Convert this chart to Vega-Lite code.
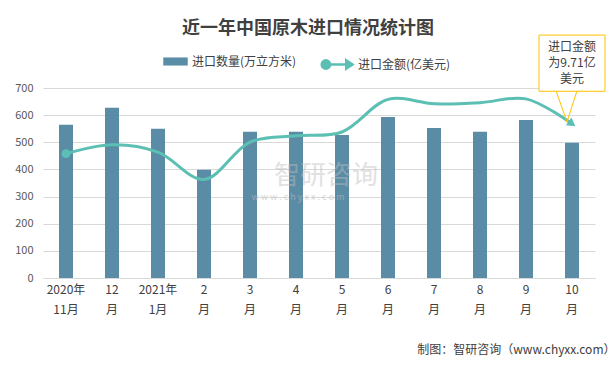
{
  "$schema": "https://vega.github.io/schema/vega-lite/v6.json",
  "width": 552,
  "height": 190,
  "autosize": {"type": "none"},
  "padding": {"left": 43, "top": 88, "right": 20, "bottom": 91},
  "background": "white",
  "config": {
    "font": "Noto Sans CJK SC",
    "view": {"stroke": null},
    "axis": {"labelFont": "Noto Sans CJK SC", "titleFont": "Noto Sans CJK SC"},
    "axisY": {
      "tickCount": 7,
      "title": null,
      "domain": false,
      "ticks": false,
      "labelFontSize": 11,
      "labelColor": "#595959",
      "labelPadding": 10,
      "gridColor": "#D9D9D9"
    }
  },
  "title": {
    "text": "近一年中国原木进口情况统计图",
    "fontSize": 18,
    "fontWeight": "bold",
    "color": "#404040",
    "anchor": "middle",
    "offset": -3,
    "dx": -11
  },
  "data": {
    "values": [
      {"月份": "2020年|11月", "数量": 565, "金额": 458},
      {"月份": "12|月", "数量": 627, "金额": 491},
      {"月份": "2021年|1月", "数量": 550, "金额": 464},
      {"月份": "2|月", "数量": 399, "金额": 363},
      {"月份": "3|月", "数量": 539, "金额": 501},
      {"月份": "4|月", "数量": 539, "金额": 524},
      {"月份": "5|月", "数量": 527, "金额": 538},
      {"月份": "6|月", "数量": 593, "金额": 658},
      {"月份": "7|月", "数量": 553, "金额": 642},
      {"月份": "8|月", "数量": 539, "金额": 646},
      {"月份": "9|月", "数量": 582, "金额": 660},
      {"月份": "10|月", "数量": 498, "金额": 568}
    ]
  },
  "encoding": {
    "x": {
      "field": "月份",
      "type": "nominal",
      "sort": null,
      "scale": {"paddingInner": 0.7, "paddingOuter": 0.35},
      "axis": {
        "labelExpr": "split(datum.label, '|')",
        "labelAngle": 0,
        "labelFontSize": 12,
        "labelColor": "#404040",
        "labelLineHeight": 20,
        "labelPadding": 6,
        "ticks": false,
        "domainColor": "#D9D9D9",
        "title": "制图：智研咨询（www.chyxx.com）",
        "titleFontSize": 12,
        "titleFontWeight": "normal",
        "titleColor": "#404040",
        "titleX": 572,
        "titleY": 66,
        "titleAlign": "right"
      }
    }
  },
  "layer": [
    {
      "mark": {"type": "bar", "width": 14},
      "encoding": {
        "y": {
          "field": "数量",
          "type": "quantitative",
          "scale": {"domain": [0, 700], "nice": false}
        },
        "fill": {
          "datum": "进口数量(万立方米)",
          "type": "nominal",
          "scale": {"range": ["#5B8CA6"]},
          "legend": {
            "orient": "none",
            "legendX": 120,
            "legendY": -39,
            "title": null,
            "symbolType": "M-1,-0.33H1V0.33H-1Z",
            "symbolSize": 600,
            "symbolStrokeWidth": 0,
            "labelFontSize": 12,
            "labelColor": "#404040"
          }
        }
      }
    },
    {
      "data": {"values": [{"k": 1}]},
      "mark": {"type": "text", "fontSize": 26, "color": "#BDBDBD", "opacity": 0.45, "dx": 30},
      "encoding": {
        "x": {"datum": "4|月"},
        "y": {"datum": 375},
        "text": {"value": "智研咨询"}
      }
    },
    {
      "data": {"values": [{"k": 1}]},
      "mark": {"type": "text", "fontSize": 9, "color": "#BDBDBD", "opacity": 0.6, "dx": 2},
      "encoding": {
        "x": {"datum": "4|月"},
        "y": {"datum": 300},
        "text": {"value": "w  w  w  .  c  h  y  x  x  .  c  o  m"}
      }
    },
    {
      "mark": {"type": "line", "interpolate": "catmull-rom", "strokeWidth": 3, "color": "#5CBFB4"},
      "encoding": {
        "y": {"field": "金额", "type": "quantitative"},
        "stroke": {
          "datum": "进口金额(亿美元)",
          "type": "nominal",
          "scale": {"range": ["#5CBFB4"]},
          "legend": {
            "orient": "none",
            "legendX": 280,
            "legendY": -39,
            "title": null,
            "symbolType": "M-1,0L0.7,0M0.55,-0.3L1,0L0.55,0.3ZM-0.6,0A0.3,0.3 0 1 1 -1.2,0A0.3,0.3 0 1 1 -0.6,0Z",
            "symbolSize": 784,
            "symbolStrokeWidth": 2.5,
            "symbolFillColor": "#5CBFB4",
            "labelFontSize": 12,
            "labelColor": "#404040"
          }
        }
      }
    },
    {
      "transform": [{"filter": "datum['月份'] == '2020年|11月'"}],
      "mark": {"type": "point", "filled": true, "size": 80, "color": "#5CBFB4", "opacity": 1},
      "encoding": {"y": {"field": "金额", "type": "quantitative"}}
    },
    {
      "transform": [{"filter": "datum['月份'] == '10|月'"}],
      "mark": {"type": "point", "shape": "triangle-right", "angle": 35, "filled": true, "size": 90, "color": "#5CBFB4", "opacity": 1},
      "encoding": {"y": {"field": "金额", "type": "quantitative"}}
    },
    {
      "data": {"values": [{"k": 1}]},
      "mark": {"type": "rule", "color": "#FFC000", "strokeWidth": 1, "xOffset": -16, "x2Offset": -5},
      "encoding": {
        "x": {"datum": "10|月"},
        "x2": {"datum": "10|月"},
        "y": {"datum": 690},
        "y2": {"datum": 575}
      }
    },
    {
      "data": {"values": [{"k": 1}]},
      "mark": {"type": "rule", "color": "#FFC000", "strokeWidth": 1, "xOffset": 5, "x2Offset": -5},
      "encoding": {
        "x": {"datum": "10|月"},
        "x2": {"datum": "10|月"},
        "y": {"datum": 690},
        "y2": {"datum": 575}
      }
    },
    {
      "data": {"values": [{"k": 1}]},
      "mark": {"type": "bar", "width": 66, "fill": "white", "stroke": "#FFC000", "strokeWidth": 1, "clip": false},
      "encoding": {
        "x": {"datum": "10|月"},
        "y": {"datum": 688},
        "y2": {"datum": 895}
      }
    },
    {
      "data": {"values": [{"k": 1}]},
      "mark": {"type": "text", "fontSize": 12, "color": "#404040", "lineBreak": "\n", "lineHeight": 16, "align": "center", "baseline": "middle"},
      "encoding": {
        "x": {"datum": "10|月"},
        "y": {"datum": 850},
        "text": {"value": "进口金额\n为9.71亿\n美元"}
      }
    }
  ],
  "resolve": {"legend": {"fill": "independent", "stroke": "independent"}}
}
